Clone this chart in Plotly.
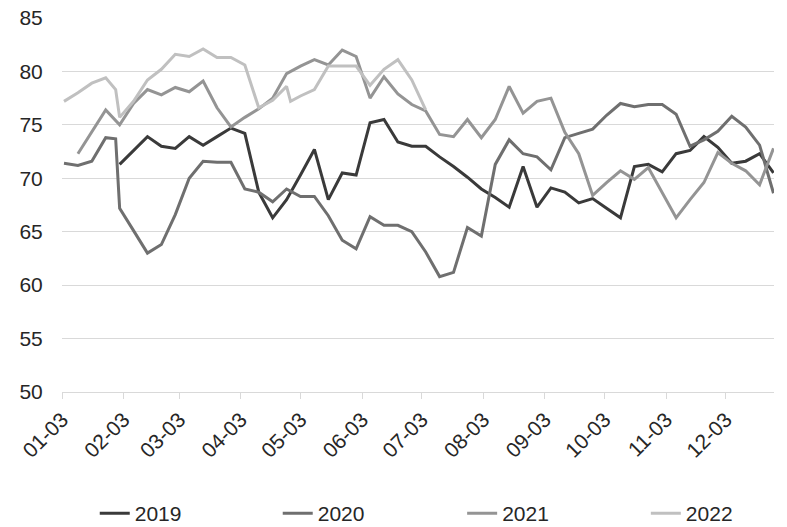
import pandas as pd
import plotly.graph_objects as go

series_names = ["2019", "2020", "2021", "2022"]
series_colors = ["#3a3a3a", "#6f6f6f", "#949494", "#c0c0c0"]

# weekly values (month-day placed on a common calendar year)
start_2019 = "2022-02-01"
values_2019 = [71.3, 72.6, 73.9, 73.0, 72.8, 73.9, 73.1, 73.9, 74.7, 74.2,
               68.7, 66.3, 68.0, 70.3, 72.7, 68.0, 70.5, 70.3, 75.2, 75.5,
               73.4, 73.0, 73.0, 72.0, 71.1, 70.1, 69.0, 68.2, 67.3, 71.1,
               67.3, 69.1, 68.7, 67.7, 68.1, 67.2, 66.3, 71.1, 71.3, 70.6,
               72.3, 72.6, 73.9, 72.9, 71.4, 71.6, 72.3, 70.5]

start_2020 = "2022-01-04"
values_2020 = [71.4, 71.2, 71.6, 73.8, 67.2, 65.1, 63.0, 63.8, 66.6, 70.0,
               71.6, 71.5, 71.5, 69.0, 68.7, 67.8, 69.0, 68.3, 68.3, 66.5,
               64.2, 63.4, 66.4, 65.6, 65.6, 65.0, 63.1, 60.8, 61.2, 65.4,
               64.6, 71.3, 73.6, 72.3, 72.0, 70.8, 73.8, 74.2, 74.6, 75.9,
               77.0, 76.7, 76.9, 76.9, 76.0, 73.0, 73.6, 74.4, 75.8, 74.8,
               73.1, 68.6]
extra_dates_2020 = ["2022-01-30"]
extra_values_2020 = [73.7]

start_2021 = "2022-01-11"
values_2021 = [72.3, 74.4, 76.4, 75.0, 77.0, 78.3, 77.8, 78.5, 78.1, 79.1,
               76.6, 74.8, 75.7, 76.5, 77.5, 79.8, 80.5, 81.1, 80.6, 82.0,
               81.4, 77.5, 79.5, 77.9, 76.9, 76.3, 74.1, 73.9, 75.5, 73.8,
               75.5, 78.6, 76.1, 77.2, 77.5, 74.3, 72.3, 68.4, 69.6, 70.7,
               69.9, 71.0, 68.7, 66.3, 68.0, 69.6, 72.4, 71.4, 70.7, 69.4,
               72.8]

start_2022 = "2022-01-04"
values_2022 = [77.2, 78.0, 78.9, 79.4, 75.7, 77.2, 79.2, 80.2, 81.6, 81.4,
               82.1, 81.3, 81.3, 80.6, 76.6, 77.3, 78.6, 77.7, 78.3, 80.5,
               80.5, 80.5, 78.7, 80.2, 81.1, 79.2, 76.4]
extra_dates_2022 = ["2022-01-30", "2022-04-28"]
extra_values_2022 = [78.3, 77.2]

y_ticks = [50, 55, 60, 65, 70, 75, 80, 85]


def build(start, values, extra_dates=(), extra_values=()):
    df = pd.DataFrame({"date": pd.date_range(start, periods=len(values), freq="7D"),
                       "value": values})
    if extra_dates:
        df = pd.concat([df, pd.DataFrame({"date": pd.to_datetime(list(extra_dates)),
                                          "value": list(extra_values)})])
    return df.sort_values("date")


frames = [
    build(start_2019, values_2019),
    build(start_2020, values_2020, extra_dates_2020, extra_values_2020),
    build(start_2021, values_2021),
    build(start_2022, values_2022, extra_dates_2022, extra_values_2022),
]

legend_ids = ["legend", "legend2", "legend3", "legend4"]
legend_x = [0.046, 0.303, 0.562, 0.820]

fig = go.Figure()
for name, color, df, lid in zip(series_names, series_colors, frames, legend_ids):
    fig.add_trace(go.Scatter(x=df["date"], y=df["value"], mode="lines", name=name,
                             legend=lid, line=dict(color=color, width=3)))

font_family = "Liberation Sans, Arial, sans-serif"
legend_style = dict(orientation="h", xanchor="left", y=-0.325, yanchor="middle",
                    font=dict(size=21, color="#262626"), bgcolor="rgba(0,0,0,0)")
fig.update_layout(
    width=787, height=527,
    margin=dict(l=62, r=13, t=18, b=135, autoexpand=False),
    paper_bgcolor="white", plot_bgcolor="white",
    font=dict(family=font_family, size=21, color="#262626"),
    showlegend=True,
    legend=dict(x=legend_x[0], **legend_style),
    legend2=dict(x=legend_x[1], **legend_style),
    legend3=dict(x=legend_x[2], **legend_style),
    legend4=dict(x=legend_x[3], **legend_style),
    xaxis=dict(type="date", range=["2022-01-03", "2022-12-27 06:00"],
               tick0="2022-01-03", dtick="M1", tickformat="%m-%d", tickangle=-45,
               ticks="outside", ticklen=6, tickcolor="#d9d9d9",
               showline=True, linecolor="#d9d9d9", linewidth=1,
               showgrid=False, zeroline=False,
               tickfont=dict(size=21, color="#262626")),
    yaxis=dict(range=[50, 85], tickvals=y_ticks, showgrid=True, gridcolor="#d9d9d9",
               gridwidth=1, zeroline=False, showline=False,
               ticks="outside", ticklen=14, tickcolor="rgba(0,0,0,0)",
               tickfont=dict(size=21, color="#262626")),
)

fig.write_html("out.html", config={"displayModeBar": False},
               post_script="document.body.style.margin='0';")
